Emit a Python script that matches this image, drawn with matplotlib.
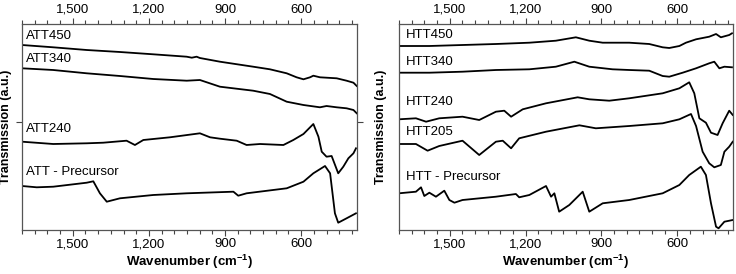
import matplotlib
matplotlib.use("Agg")
import matplotlib.pyplot as plt
from matplotlib.ticker import MultipleLocator, FixedLocator, FuncFormatter

plt.rcParams['font.family'] = ['Liberation Sans', 'DejaVu Sans']

# ---- left panel (ATT), wavenumber / offset transmission ----
att450_x = [1700, 1577, 1445, 1314, 1183, 1051, 1031, 1012, 999, 920, 789, 723, 657, 618, 591, 565, 552, 526, 460, 421, 394, 381]
att450_y = [185.0, 182.7, 180.0, 178.0, 175.7, 173.3, 172.3, 173.3, 172.0, 168.3, 163.3, 160.7, 156.7, 152.7, 150.7, 152.7, 154.3, 152.7, 151.7, 149.3, 147.3, 144.0]

att340_x = [1700, 1577, 1445, 1314, 1183, 1051, 999, 920, 789, 723, 657, 591, 526, 500, 460, 421, 394, 381]
att340_y = [161.7, 160.0, 156.7, 154.0, 151.0, 149.3, 150.0, 143.3, 139.3, 136.0, 128.3, 125.0, 122.7, 124.0, 122.7, 121.7, 120.0, 116.7]

att240_x = [1700, 1577, 1445, 1380, 1288, 1255, 1222, 1117, 999, 959, 920, 854, 815, 762, 670, 631, 591, 552, 532, 519, 500, 480, 454, 434, 414, 394, 384]
att240_y = [88.3, 86.0, 86.7, 87.3, 89.3, 85.0, 90.0, 92.7, 96.7, 92.7, 91.3, 89.3, 85.0, 86.0, 85.0, 90.0, 96.0, 106.0, 93.3, 78.3, 73.3, 74.0, 56.7, 63.3, 71.7, 76.7, 81.7]

attpre_x = [1700, 1642, 1577, 1445, 1419, 1393, 1366, 1314, 1183, 1051, 867, 848, 815, 657, 591, 552, 506, 486, 467, 454, 421, 384]
attpre_y = [44.0, 42.7, 43.3, 47.3, 48.7, 36.7, 28.3, 31.7, 35.0, 36.7, 38.3, 34.3, 36.7, 41.7, 48.3, 56.7, 64.0, 56.7, 16.7, 7.3, 11.7, 16.7]

# ---- right panel (HTT) ----
htt450_x = [1700, 1580, 1449, 1317, 1185, 1080, 1001, 948, 895, 790, 711, 658, 632, 592, 566, 526, 474, 447, 428, 395, 384]
htt450_y = [184.0, 184.0, 185.0, 186.0, 187.3, 189.3, 192.7, 189.3, 187.3, 187.3, 186.0, 182.7, 182.0, 184.0, 187.3, 190.7, 193.3, 196.0, 192.7, 195.0, 196.7]

htt340_x = [1700, 1580, 1449, 1317, 1185, 1080, 1007, 948, 856, 790, 711, 658, 632, 579, 526, 474, 454, 434, 414, 384]
htt340_y = [157.3, 157.3, 158.3, 160.0, 160.7, 163.3, 168.3, 163.3, 160.7, 160.0, 159.3, 154.0, 153.3, 157.3, 161.7, 166.7, 168.3, 161.7, 163.3, 162.7]

htt240_x = [1700, 1633, 1593, 1541, 1449, 1383, 1317, 1284, 1257, 1211, 1119, 994, 948, 869, 790, 658, 592, 553, 533, 513, 487, 467, 441, 421, 395, 381]
htt240_y = [110.7, 111.7, 108.3, 111.7, 113.3, 110.0, 118.3, 119.3, 113.3, 120.7, 126.7, 132.7, 130.7, 129.3, 131.7, 136.7, 141.7, 147.7, 136.7, 111.7, 107.3, 97.3, 95.0, 106.7, 119.3, 115.0]

htt205_x = [1700, 1633, 1587, 1541, 1449, 1383, 1317, 1290, 1257, 1225, 1119, 987, 922, 790, 658, 592, 546, 526, 500, 474, 454, 428, 414, 395, 381]
htt205_y = [86.0, 86.0, 79.3, 84.0, 89.3, 75.0, 88.3, 89.3, 81.7, 91.7, 98.3, 104.7, 101.7, 104.0, 106.7, 110.7, 116.0, 104.0, 78.3, 66.7, 62.7, 65.0, 78.3, 83.3, 88.3]

httpre_x = [1700, 1633, 1613, 1600, 1580, 1554, 1521, 1501, 1481, 1449, 1317, 1238, 1225, 1185, 1119, 1099, 1086, 1067, 1027, 974, 961, 948, 895, 790, 658, 592, 553, 507, 487, 467, 447, 437, 414, 381]
httpre_y = [36.7, 38.3, 42.7, 34.0, 37.3, 33.3, 39.3, 30.0, 27.3, 30.0, 33.3, 36.0, 32.7, 35.0, 44.0, 33.3, 36.7, 18.3, 25.0, 38.3, 28.3, 18.3, 26.7, 30.0, 36.7, 45.0, 55.0, 63.3, 55.0, 26.7, 3.3, 1.7, 8.3, 10.0]

att_names = ['ATT450', 'ATT340', 'ATT240', 'ATT - Precursor']
att_label_y = [194, 171, 101, 58]
htt_names = ['HTT450', 'HTT340', 'HTT240', 'HTT205', 'HTT - Precursor']
htt_label_y = [195, 167.7, 128.3, 97.7, 53.3]

major_ticks = [1500, 1200, 900, 600]


def style_axis(ax, ytick):
    ax.set_xlim(1700, 380)
    ax.set_ylim(0, 206)
    ax.xaxis.set_major_locator(FixedLocator(major_ticks))
    ax.xaxis.set_minor_locator(MultipleLocator(50))
    ax.xaxis.set_major_formatter(FuncFormatter(lambda v, p: '{:,.0f}'.format(v)))
    ax.tick_params(axis='x', which='both', direction='out', top=True, labeltop=True,
                   labelsize=9.5, pad=2, color='#444444', width=0.8)
    ax.tick_params(axis='x', which='major', length=4)
    ax.tick_params(axis='x', which='minor', length=3)
    if ytick:
        ax.set_yticks([108])
        ax.tick_params(axis='y', left=True, right=True, labelleft=False, length=4,
                       color='#444444', width=0.8)
    else:
        ax.set_yticks([])
    for s in ax.spines.values():
        s.set_color('#555555')
        s.set_linewidth(0.9)
    ax.set_xlabel('Wavenumber (cm$^{\\mathregular{-1}}$)', fontsize=9.5, fontweight='bold', labelpad=2)
    ax.set_ylabel('Transmission (a.u.)', fontsize=9, fontweight='bold')


fig = plt.figure(figsize=(7.36, 2.74), dpi=100)
ax1 = fig.add_axes([22 / 736, 44 / 274, 335 / 736, 206 / 274])
ax2 = fig.add_axes([399 / 736, 44 / 274, 334 / 736, 206 / 274])

for xs, ys in [(att450_x, att450_y), (att340_x, att340_y), (att240_x, att240_y), (attpre_x, attpre_y)]:
    ax1.plot(xs, ys, color='black', lw=1.3)
for name, yy in zip(att_names, att_label_y):
    ax1.text(1683, yy, name, fontsize=9.5, va='center', ha='left')

for xs, ys in [(htt450_x, htt450_y), (htt340_x, htt340_y), (htt240_x, htt240_y),
               (htt205_x, htt205_y), (httpre_x, httpre_y)]:
    ax2.plot(xs, ys, color='black', lw=1.3)
for name, yy in zip(htt_names, htt_label_y):
    ax2.text(1672, yy, name, fontsize=9.5, va='center', ha='left')

style_axis(ax1, True)
style_axis(ax2, False)
ax1.yaxis.set_label_coords(-0.03, 0.5)
ax2.yaxis.set_label_coords(-0.035, 0.5)

fig.savefig('out.png', dpi=100)
